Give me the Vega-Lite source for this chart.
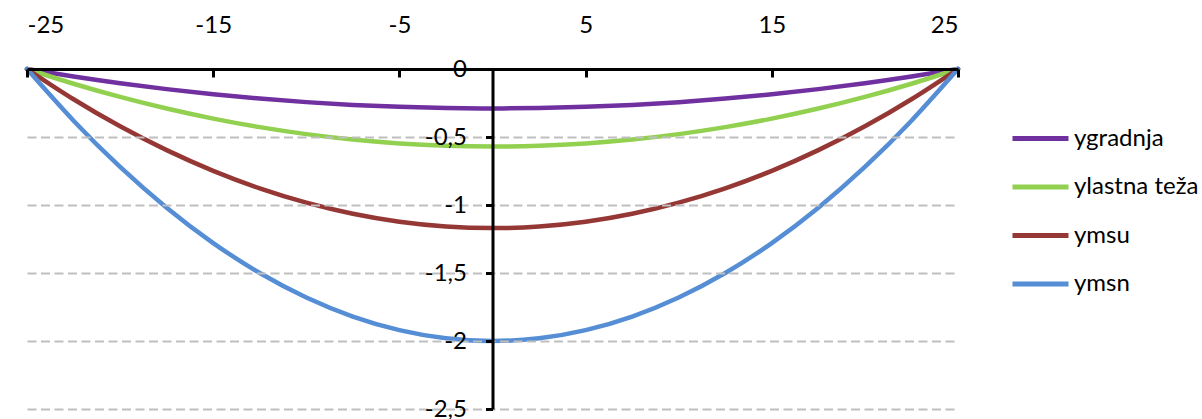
{
  "$schema": "https://vega.github.io/schema/vega-lite/v6.json",
  "width": 931,
  "height": 340,
  "autosize": {"type": "none"},
  "padding": {"left": 27, "top": 69, "right": 244, "bottom": 10},
  "background": "white",
  "config": {"view": {"stroke": null}, "font": "Lato"},
  "data": {
    "values": [
      {"x": -25, "ygradnja": 0, "ylastna teža": 0, "ymsu": 0, "ymsn": 0},
      {"x": -22.5, "ygradnja": -0.0551, "ylastna teža": -0.1083, "ymsu": -0.2223, "ymsn": -0.38},
      {"x": -20, "ygradnja": -0.1044, "ylastna teža": -0.2052, "ymsu": -0.4212, "ymsn": -0.72},
      {"x": -17.5, "ygradnja": -0.1479, "ylastna teža": -0.2907, "ymsu": -0.5967, "ymsn": -1.02},
      {"x": -15, "ygradnja": -0.1856, "ylastna teža": -0.3648, "ymsu": -0.7488, "ymsn": -1.28},
      {"x": -12.5, "ygradnja": -0.2175, "ylastna teža": -0.4275, "ymsu": -0.8775, "ymsn": -1.5},
      {"x": -10, "ygradnja": -0.2436, "ylastna teža": -0.4788, "ymsu": -0.9828, "ymsn": -1.68},
      {"x": -7.5, "ygradnja": -0.2639, "ylastna teža": -0.5187, "ymsu": -1.0647, "ymsn": -1.82},
      {"x": -5, "ygradnja": -0.2784, "ylastna teža": -0.5472, "ymsu": -1.1232, "ymsn": -1.92},
      {"x": -2.5, "ygradnja": -0.2871, "ylastna teža": -0.5643, "ymsu": -1.1583, "ymsn": -1.98},
      {"x": 0, "ygradnja": -0.29, "ylastna teža": -0.57, "ymsu": -1.17, "ymsn": -2.0},
      {"x": 2.5, "ygradnja": -0.2871, "ylastna teža": -0.5643, "ymsu": -1.1583, "ymsn": -1.98},
      {"x": 5, "ygradnja": -0.2784, "ylastna teža": -0.5472, "ymsu": -1.1232, "ymsn": -1.92},
      {"x": 7.5, "ygradnja": -0.2639, "ylastna teža": -0.5187, "ymsu": -1.0647, "ymsn": -1.82},
      {"x": 10, "ygradnja": -0.2436, "ylastna teža": -0.4788, "ymsu": -0.9828, "ymsn": -1.68},
      {"x": 12.5, "ygradnja": -0.2175, "ylastna teža": -0.4275, "ymsu": -0.8775, "ymsn": -1.5},
      {"x": 15, "ygradnja": -0.1856, "ylastna teža": -0.3648, "ymsu": -0.7488, "ymsn": -1.28},
      {"x": 17.5, "ygradnja": -0.1479, "ylastna teža": -0.2907, "ymsu": -0.5967, "ymsn": -1.02},
      {"x": 20, "ygradnja": -0.1044, "ylastna teža": -0.2052, "ymsu": -0.4212, "ymsn": -0.72},
      {"x": 22.5, "ygradnja": -0.0551, "ylastna teža": -0.1083, "ymsu": -0.2223, "ymsn": -0.38},
      {"x": 25, "ygradnja": 0, "ylastna teža": 0, "ymsu": 0, "ymsn": 0}
    ]
  },
  "transform": [
    {"fold": ["ygradnja", "ylastna teža", "ymsu", "ymsn"], "as": ["serija", "y"]}
  ],
  "mark": {"type": "line", "interpolate": "natural", "strokeWidth": 4.5, "strokeCap": "round", "clip": false},
  "encoding": {
    "x": {
      "field": "x",
      "type": "quantitative",
      "scale": {"domain": [-25, 25], "nice": false, "zero": false},
      "axis": {
        "orient": "top",
        "values": [-25, -15, -5, 5, 15, 25],
        "title": null,
        "grid": false,
        "zindex": 1,
        "domainColor": "black",
        "domainWidth": 3,
        "tickColor": "black",
        "tickWidth": 3,
        "tickSize": -8,
        "labelPadding": 40,
        "labelFontSize": 24,
        "labelColor": "black",
        "labelExpr": "datum.value < 0 ? '-' + abs(datum.value) : '' + datum.value"
      }
    },
    "y": {
      "field": "y",
      "type": "quantitative",
      "scale": {"domain": [-2.5, 0], "nice": false},
      "axis": {
        "orient": "left",
        "offset": -465.5,
        "values": [0, -0.5, -1, -1.5, -2, -2.5],
        "title": null,
        "grid": true,
        "zindex": 1,
        "gridColor": "#BFBFBF",
        "gridDash": [9, 4.5],
        "gridWidth": 1.8,
        "domainColor": "black",
        "domainWidth": 3,
        "tickColor": "black",
        "tickWidth": 3,
        "tickSize": 7,
        "labelPadding": 19,
        "labelFontSize": 24,
        "labelColor": "black",
        "labelExpr": "datum.value == 0 ? '0' : '-' + replace('' + abs(datum.value), '.', ',')"
      }
    },
    "color": {
      "field": "serija",
      "type": "nominal",
      "scale": {
        "domain": ["ygradnja", "ylastna teža", "ymsu", "ymsn"],
        "range": ["#7030A0", "#92D050", "#953735", "#558ED5"]
      },
      "legend": {
        "orient": "none",
        "legendX": 983,
        "legendY": 39,
        "title": null,
        "symbolType": "stroke",
        "symbolSize": 3136,
        "symbolStrokeWidth": 5,
        "labelFontSize": 24,
        "labelColor": "black",
        "labelOffset": 3,
        "rowPadding": 5.5
      }
    }
  }
}
